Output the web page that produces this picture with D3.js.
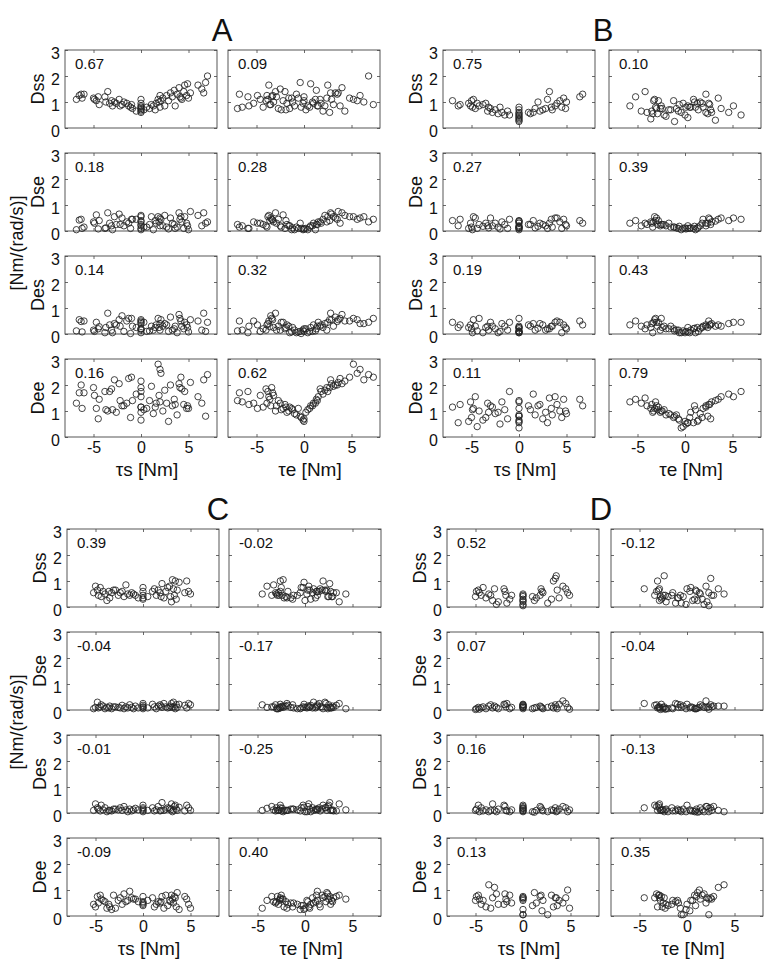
<!DOCTYPE html>
<html><head><meta charset="utf-8">
<script src="https://cdn.jsdelivr.net/npm/d3@7"></script>
<style>body{margin:0;background:#fff}svg{display:block}</style>
</head><body><svg id="c" width="770" height="960"></svg>
<script>
// ---------------- DATA ----------------
const rowNames = ["Dss", "Dse", "Des", "Dee"];
const colTitles = ["τs [Nm]", "τe [Nm]"];
const xTicks = [-5, 0, 5];
const yTicks = [0, 1, 2, 3];
const unitLabel = "[Nm/(rad/s)]";

// correlation coefficients, order: Dss(τs), Dss(τe), Dse(τs), Dse(τe), Des(τs), Des(τe), Dee(τs), Dee(τe)
const A_r = ["0.67", "0.09", "0.18", "0.28", "0.14", "0.32", "0.16", "0.62"];
const B_r = ["0.75", "0.10", "0.27", "0.39", "0.19", "0.43", "0.11", "0.79"];
const C_r = ["0.39", "-0.02", "-0.04", "-0.17", "-0.01", "-0.25", "-0.09", "0.40"];
const D_r = ["0.52", "-0.12", "0.07", "-0.04", "0.16", "-0.13", "0.13", "0.35"];

// Panel A
const A_ts = [-6.8,-6.5,-6.3,-6.2,-6.0,-5.0,-4.9,-4.7,-4.5,-4.4,4.2,-3.7,-3.5,-3.3,-3.1,-3.0,-2.8,-2.6,-2.3,-2.0,-1.8,-1.5,-1.3,-1.1,-0.9,-0.5,0,0,0,0,0,0,0,0,0.3,0.6,0.9,1.1,1.3,1.6,1.9,2.1,2.3,2.5,2.7,2.9,3.1,3.3,3.5,3.6,3.8,4.0,4.1,4.3,4.5,4.6,4.8,4.9,5.0,5.2,6.0,1.8,6.4,6.6,6.8,7.0,2.0,-1.0,-3.8,2.0,-2.2,1.5];
const A_te = [1.2,-3.3,3.5,-0.6,-6.8,2.4,-4.6,-2.2,0.0,-3.6,4.8,-1.2,-3.0,1.8,-4.0,0.4,6.3,-1.8,2.9,-3.5,0.9,-5.3,3.8,-0.3,-2.7,2.0,-3.8,-0.1,1.5,-1.5,0.2,4.3,-4.3,2.7,-2.4,0.6,-7.0,3.1,-1.0,1.0,-3.2,5.6,-1.6,2.2,-3.9,0.0,3.3,-2.9,1.3,-5.8,-0.8,4.0,-3.4,1.7,-2.0,2.5,-4.9,0.7,-1.3,3.6,-3.7,5.2,-2.5,2.8,-0.4,6.8,5.9,7.3,-5.9,-6.5,1.4,-1.9];
const A_Dss = [1.10,1.25,1.30,1.15,1.30,1.15,1.10,1.05,1.20,0.90,1.15,1.00,1.40,0.95,1.05,0.85,1.00,0.95,1.10,0.90,1.00,0.95,0.85,0.80,0.75,0.65,1.10,0.95,0.85,0.75,0.70,0.65,0.80,0.60,0.70,0.80,0.75,0.90,0.85,0.95,1.00,1.05,1.15,0.85,1.25,1.05,1.35,1.20,1.45,0.85,1.30,1.55,1.20,1.10,1.40,1.65,1.25,1.70,1.15,1.35,1.65,1.10,1.50,1.35,1.75,2.00,1.25,0.90,1.20,0.80,0.85,0.70];
const A_Dse = [0.05,0.42,0.45,0.10,0.15,0.35,0.30,0.62,0.08,0.40,0.55,0.12,0.70,0.30,0.20,0.05,0.55,0.25,0.65,0.50,0.20,0.35,0.30,0.10,0.45,0.45,0.55,0.05,0.35,0.20,0.10,0.60,0.25,0.40,0.15,0.15,0.25,0.55,0.05,0.30,0.35,0.45,0.20,0.60,0.15,0.08,0.50,0.30,0.25,0.10,0.15,0.70,0.45,0.35,0.10,0.55,0.30,0.20,0.05,0.75,0.60,0.55,0.20,0.70,0.30,0.35,0.50,0.45,0.10,0.20,0.25,0.40];
const A_Des = [0.12,0.55,0.48,0.08,0.50,0.15,0.10,0.45,0.20,0.28,0.50,0.25,0.80,0.35,0.15,0.05,0.40,0.35,0.55,0.70,0.10,0.50,0.60,0.02,0.30,0.25,0.40,0.15,0.45,0.05,0.20,0.50,0.20,0.55,0.45,0.10,0.12,0.30,0.15,0.35,0.25,0.55,0.30,0.40,0.35,0.10,0.65,0.15,0.20,0.30,0.05,0.75,0.60,0.30,0.20,0.45,0.35,0.25,0.08,0.55,0.50,0.60,0.15,0.80,0.10,0.45,0.40,0.60,0.05,0.15,0.30,0.25];
const A_Dee = [1.30,1.70,2.00,1.10,1.70,1.90,1.60,1.10,0.70,1.45,2.30,1.05,1.00,1.75,1.85,1.05,2.20,0.95,2.05,1.20,1.20,1.30,2.25,0.75,1.40,1.65,1.75,0.65,1.55,1.15,0.95,2.15,1.15,1.90,1.05,1.10,1.40,1.95,0.90,1.30,1.60,2.45,1.00,1.80,1.30,0.60,2.00,1.20,1.45,1.25,0.85,2.05,1.90,1.85,1.25,1.75,1.10,1.20,1.10,2.10,1.55,2.80,1.30,2.20,0.80,2.40,2.60,2.30,1.75,1.35,1.40,1.15];

// Panel B
const B_ts = [-7.0,-6.4,-6.2,-5.1,-5.0,-4.9,-4.8,-4.6,-4.4,-4.2,-3.5,-3.3,-3.2,-3.0,-2.8,-2.5,-2.2,-2.0,-1.8,-1.5,-1.2,-1.0,0,0,0,0,0,0,0,0,0,0,1.2,1.5,1.7,2.0,2.2,2.5,2.8,3.0,3.2,3.4,3.5,4.0,4.3,4.5,4.7,4.9,5.0,6.4,6.7,-3.8,1.0,3.8,-5.3];
const B_te = [-2.8,0.3,2.6,-5.8,-1.2,1.1,-3.2,3.8,-0.2,-2.5,1.8,-4.6,0.6,-3.0,2.2,-1.7,-3.4,0.1,2.8,-2.2,-0.7,5.9,-3.1,1.4,-0.4,2.4,-2.0,0.3,-3.6,3.2,-1.1,0.0,-2.9,4.6,-0.9,1.0,-3.5,2.7,-2.6,0.9,-4.2,1.9,-1.5,2.5,-3.3,0.5,3.5,-2.4,1.6,-5.2,2.2,-0.6,-4.0,5.1,1.3];
const B_Dss = [1.05,0.85,0.90,0.85,1.05,0.80,1.10,0.75,0.95,0.85,0.95,0.65,0.80,0.75,0.60,0.70,0.55,0.80,0.60,0.50,0.65,0.50,0.80,0.70,0.60,0.55,0.45,0.40,0.35,0.30,0.25,0.50,0.55,0.60,0.75,1.00,0.65,0.70,0.75,1.10,1.40,0.80,0.70,0.95,1.05,0.80,1.15,0.75,1.00,1.20,1.30,0.90,0.60,0.85,0.95];
const B_Dse = [0.40,0.20,0.45,0.30,0.15,0.05,0.55,0.50,0.10,0.25,0.30,0.20,0.12,0.50,0.20,0.30,0.15,0.08,0.35,0.25,0.10,0.45,0.40,0.15,0.05,0.30,0.20,0.10,0.35,0.38,0.15,0.12,0.25,0.40,0.12,0.18,0.30,0.25,0.20,0.10,0.30,0.45,0.15,0.50,0.35,0.10,0.45,0.25,0.20,0.40,0.30,0.18,0.25,0.50,0.10];
const B_Des = [0.45,0.25,0.35,0.35,0.20,0.05,0.55,0.30,0.12,0.60,0.25,0.30,0.15,0.45,0.30,0.20,0.05,0.10,0.40,0.30,0.15,0.45,0.60,0.10,0.05,0.25,0.20,0.08,0.25,0.30,0.12,0.05,0.30,0.40,0.15,0.22,0.40,0.35,0.15,0.20,0.20,0.30,0.30,0.50,0.45,0.05,0.35,0.25,0.20,0.50,0.35,0.05,0.35,0.45,0.25];
const B_Dee = [1.15,0.55,1.25,1.35,0.75,1.05,1.10,1.55,0.40,1.00,0.75,1.30,0.95,1.20,1.15,0.90,0.95,0.50,1.35,1.05,0.70,1.75,1.35,0.65,0.35,0.80,0.85,0.55,1.10,1.40,0.80,0.60,1.05,1.65,0.85,1.20,1.25,0.70,0.95,0.55,1.50,1.10,0.85,1.25,1.00,0.75,1.45,1.00,0.90,1.45,1.20,0.65,1.20,1.55,0.60];

// Panel C
const C_ts = [-5.2,-5.0,-4.8,-4.7,-4.5,-4.2,-4.0,-3.8,-3.6,-3.5,-3.3,-3.1,-2.6,-2.4,-2.2,-2.0,-1.8,-1.6,-1.4,-1.2,-0.8,-0.5,0,0,0,0,0,0.5,1.0,1.2,1.4,1.6,1.8,2.0,2.2,2.4,2.6,2.9,3.1,3.2,3.3,3.4,3.5,3.6,3.8,4.4,4.6,4.8,5.0,-1.0,2.8,-4.4,1.9,-2.9,3.0];
const C_te = [-2.8,0.4,2.1,-1.2,-2.5,1.3,-3.0,0.0,2.7,-2.2,-0.5,1.8,-2.7,0.8,-1.8,2.4,-3.3,0.2,1.3,3.0,-2.4,1.1,-0.2,2.2,-2.9,0.6,-1.5,2.8,-2.6,1.6,-0.8,0.3,-3.1,2.6,-1.9,1.2,-0.4,2.9,-2.3,0.9,-3.5,1.9,-1.3,2.3,-0.1,3.3,-2.6,1.5,-4.5,4.3,-4.0,2.5,-2.0,0.5,3.6];
const C_Dss = [0.55,0.80,0.65,0.45,0.75,0.60,0.50,0.25,0.60,0.35,0.55,0.65,0.45,0.55,0.60,0.40,0.85,0.50,0.45,0.55,0.45,0.35,0.75,0.60,0.45,0.30,0.35,0.40,0.60,0.70,0.45,0.65,0.55,0.90,0.35,0.60,0.75,0.40,1.05,0.70,0.45,1.00,0.30,0.65,0.95,0.55,1.00,0.60,0.50,0.50,0.80,0.40,0.40,0.65,0.20];
const C_Dse = [0.05,0.10,0.30,0.08,0.12,0.15,0.05,0.10,0.08,0.15,0.05,0.12,0.10,0.08,0.18,0.05,0.12,0.08,0.20,0.10,0.15,0.08,0.12,0.25,0.05,0.18,0.10,0.08,0.22,0.12,0.05,0.15,0.20,0.10,0.25,0.12,0.08,0.15,0.10,0.30,0.12,0.05,0.20,0.10,0.22,0.18,0.08,0.25,0.20,0.05,0.10,0.20,0.15,0.12,0.25];
const C_Des = [0.10,0.35,0.20,0.15,0.08,0.12,0.20,0.05,0.10,0.10,0.08,0.15,0.12,0.20,0.10,0.25,0.12,0.05,0.15,0.08,0.18,0.12,0.30,0.20,0.10,0.05,0.15,0.10,0.20,0.08,0.12,0.25,0.08,0.40,0.10,0.15,0.20,0.12,0.05,0.10,0.25,0.30,0.15,0.10,0.22,0.08,0.30,0.20,0.10,0.12,0.18,0.30,0.10,0.15,0.35];
const C_Dee = [0.45,0.35,0.75,0.50,0.80,0.60,0.55,0.30,0.45,0.35,0.25,0.80,0.60,0.70,0.45,0.85,0.55,0.60,0.95,0.70,0.65,0.55,0.40,0.55,0.75,0.45,0.50,0.60,0.70,0.35,0.45,0.55,0.50,0.75,0.30,0.80,0.40,0.55,0.65,0.50,0.75,0.70,0.35,0.90,0.25,0.75,0.65,0.45,0.30,0.65,0.60,0.65,0.55,0.30,0.80];

// Panel D
const D_ts = [-5.0,-4.9,-4.7,-4.6,-4.4,-4.2,-3.9,-3.6,-3.4,-3.2,-2.8,-2.6,-2.0,-1.9,-1.8,-1.7,-1.4,-1.2,0,0,0,0,0,0,0,0,1.0,1.2,1.4,1.8,1.9,2.0,2.1,2.6,3.0,3.2,3.4,3.5,3.6,3.8,4.2,4.5,4.7,4.9,-3.0];
const D_te = [-2.8,1.0,-3.0,2.3,-1.6,0.4,-2.6,3.9,-0.7,-2.9,1.8,-2.2,0.0,-3.2,2.6,-1.2,0.8,-2.5,1.4,-0.4,-2.7,2.1,-0.1,-3.4,0.6,2.3,-2.0,1.1,-0.9,2.8,-2.9,0.3,-1.5,-0.6,1.6,-3.1,2.5,-2.4,0.9,-1.0,2.0,-4.5,1.3,-2.3,3.3];
const D_Dss = [0.40,0.60,0.65,0.55,0.45,0.75,0.35,0.50,0.45,0.25,0.10,0.20,0.70,0.60,0.45,0.15,0.30,0.45,0.50,0.40,0.30,0.20,0.10,0.45,0.25,0.05,0.40,0.25,0.35,0.45,0.70,0.60,0.55,0.15,0.30,1.00,1.10,1.20,0.65,0.35,0.80,0.70,0.55,0.45,0.70];
const D_Dse = [0.02,0.05,0.10,0.03,0.08,0.12,0.05,0.15,0.20,0.08,0.10,0.05,0.22,0.20,0.12,0.25,0.05,0.10,0.20,0.15,0.22,0.10,0.05,0.18,0.10,0.12,0.05,0.08,0.10,0.15,0.12,0.08,0.05,0.10,0.15,0.08,0.20,0.12,0.05,0.22,0.35,0.25,0.10,0.03,0.15];
const D_Des = [0.10,0.15,0.30,0.05,0.20,0.08,0.12,0.05,0.10,0.35,0.05,0.15,0.30,0.25,0.10,0.08,0.05,0.12,0.20,0.15,0.10,0.25,0.05,0.30,0.08,0.18,0.05,0.03,0.10,0.25,0.20,0.12,0.08,0.05,0.12,0.10,0.20,0.05,0.08,0.15,0.25,0.20,0.05,0.12,0.10];
const D_Dee = [0.60,0.75,0.80,0.65,0.45,0.60,0.35,1.20,0.30,0.70,0.85,0.45,0.45,0.85,0.65,0.55,0.80,0.50,0.65,0.05,0.75,0.70,0.25,0.70,0.60,0.05,0.40,0.90,0.50,0.75,0.80,0.20,0.60,0.05,0.80,0.35,0.70,0.70,0.40,0.60,0.50,0.70,1.00,0.30,1.10];

// ---------------- LAYOUT ----------------
const FONT = '"Liberation Sans", Arial, Helvetica, sans-serif';
const W = 152, H = 78, ROWSTEP = 103;
const panels = [
  {letter: "A", ts: A_ts, te: A_te, D: [A_Dss, A_Dse, A_Des, A_Dee], r: A_r, cols: [65, 228], y0: 50, unit: true, lx: 222},
  {letter: "B", ts: B_ts, te: B_te, D: [B_Dss, B_Dse, B_Des, B_Dee], r: B_r, cols: [443, 609], y0: 50, unit: false, lx: 603},
  {letter: "C", ts: C_ts, te: C_te, D: [C_Dss, C_Dse, C_Des, C_Dee], r: C_r, cols: [67, 229], y0: 529, unit: true, lx: 218},
  {letter: "D", ts: D_ts, te: D_te, D: [D_Dss, D_Dse, D_Des, D_Dee], r: D_r, cols: [447, 611], y0: 529, unit: false, lx: 601}
];

const svg = d3.select("#c");
const x = d3.scaleLinear().domain([-8, 8]).range([0, W]);
const y = d3.scaleLinear().domain([0, 3]).range([H, 0]);
const fmt = d => String(d);

function axis(g, gen, tr, labels, size) {
  const a = g.append("g").attr("transform", tr).call(gen);
  a.attr("font-family", FONT).attr("font-size", size);
  a.select(".domain").remove();
  a.selectAll(".tick line").attr("stroke", "#444").attr("stroke-width", 0.8);
  if (!labels) a.selectAll(".tick text").remove();
  else a.selectAll(".tick text").attr("fill", "#111");
  return a;
}

panels.forEach(p => {
  svg.append("text").attr("x", p.lx).attr("y", p.y0 - 9)
    .attr("text-anchor", "middle").attr("font-family", FONT).attr("font-size", 31)
    .attr("fill", "#111").text(p.letter);

  if (p.unit) {
    const cy = p.y0 + 193;
    svg.append("text").attr("transform", `translate(23,${cy}) rotate(-90)`)
      .attr("text-anchor", "middle").attr("font-family", FONT).attr("font-size", 18)
      .attr("fill", "#111").text(unitLabel);
  }

  rowNames.forEach((rn, ri) => {
    const top = p.y0 + ri * ROWSTEP;
    svg.append("text").attr("transform", `translate(${p.cols[0] - 21},${top + H / 2}) rotate(-90)`)
      .attr("text-anchor", "middle").attr("font-family", FONT).attr("font-size", 18)
      .attr("fill", "#111").text(rn);

    [0, 1].forEach(ci => {
      const g = svg.append("g").attr("transform", `translate(${p.cols[ci]},${top})`);
      const xs = ci === 0 ? p.ts : p.te;
      const ys = p.D[ri];
      const last = ri === 3;

      g.append("rect").attr("width", W).attr("height", H)
        .attr("fill", "none").attr("stroke", "#444").attr("stroke-width", 0.9);

      axis(g, d3.axisBottom(x).tickValues(xTicks).tickFormat(fmt).tickSizeInner(-3).tickSizeOuter(0).tickPadding(5),
        `translate(0,${H})`, last, 16);
      axis(g, d3.axisTop(x).tickValues(xTicks).tickSizeInner(-3).tickSizeOuter(0), "translate(0,0)", false, 16);
      const la = axis(g, d3.axisLeft(y).tickValues(yTicks).tickFormat(fmt).tickSizeInner(-3).tickSizeOuter(0).tickPadding(5),
        "translate(0,0)", ci === 0, 16);
      la.selectAll(".tick text").attr("dy", "0.55em");
      axis(g, d3.axisRight(y).tickValues(yTicks).tickSizeInner(-3).tickSizeOuter(0), `translate(${W},0)`, false, 16);

      g.append("g").selectAll("circle").data(d3.range(ys.length)).join("circle")
        .attr("cx", i => x(xs[i])).attr("cy", i => y(ys[i])).attr("r", 3.2)
        .attr("fill", "none").attr("stroke", "#222").attr("stroke-width", 0.85);

      g.append("text").attr("x", 10).attr("y", 19)
        .attr("font-family", FONT).attr("font-size", 15).attr("fill", "#111")
        .text(p.r[ri * 2 + ci]);

      if (last) {
        g.append("text").attr("x", W / 2 + 6).attr("y", H + 39)
          .attr("text-anchor", "middle").attr("font-family", FONT).attr("font-size", 19)
          .attr("fill", "#111").text(colTitles[ci]);
      }
    });
  });
});
</script>
</body></html>
